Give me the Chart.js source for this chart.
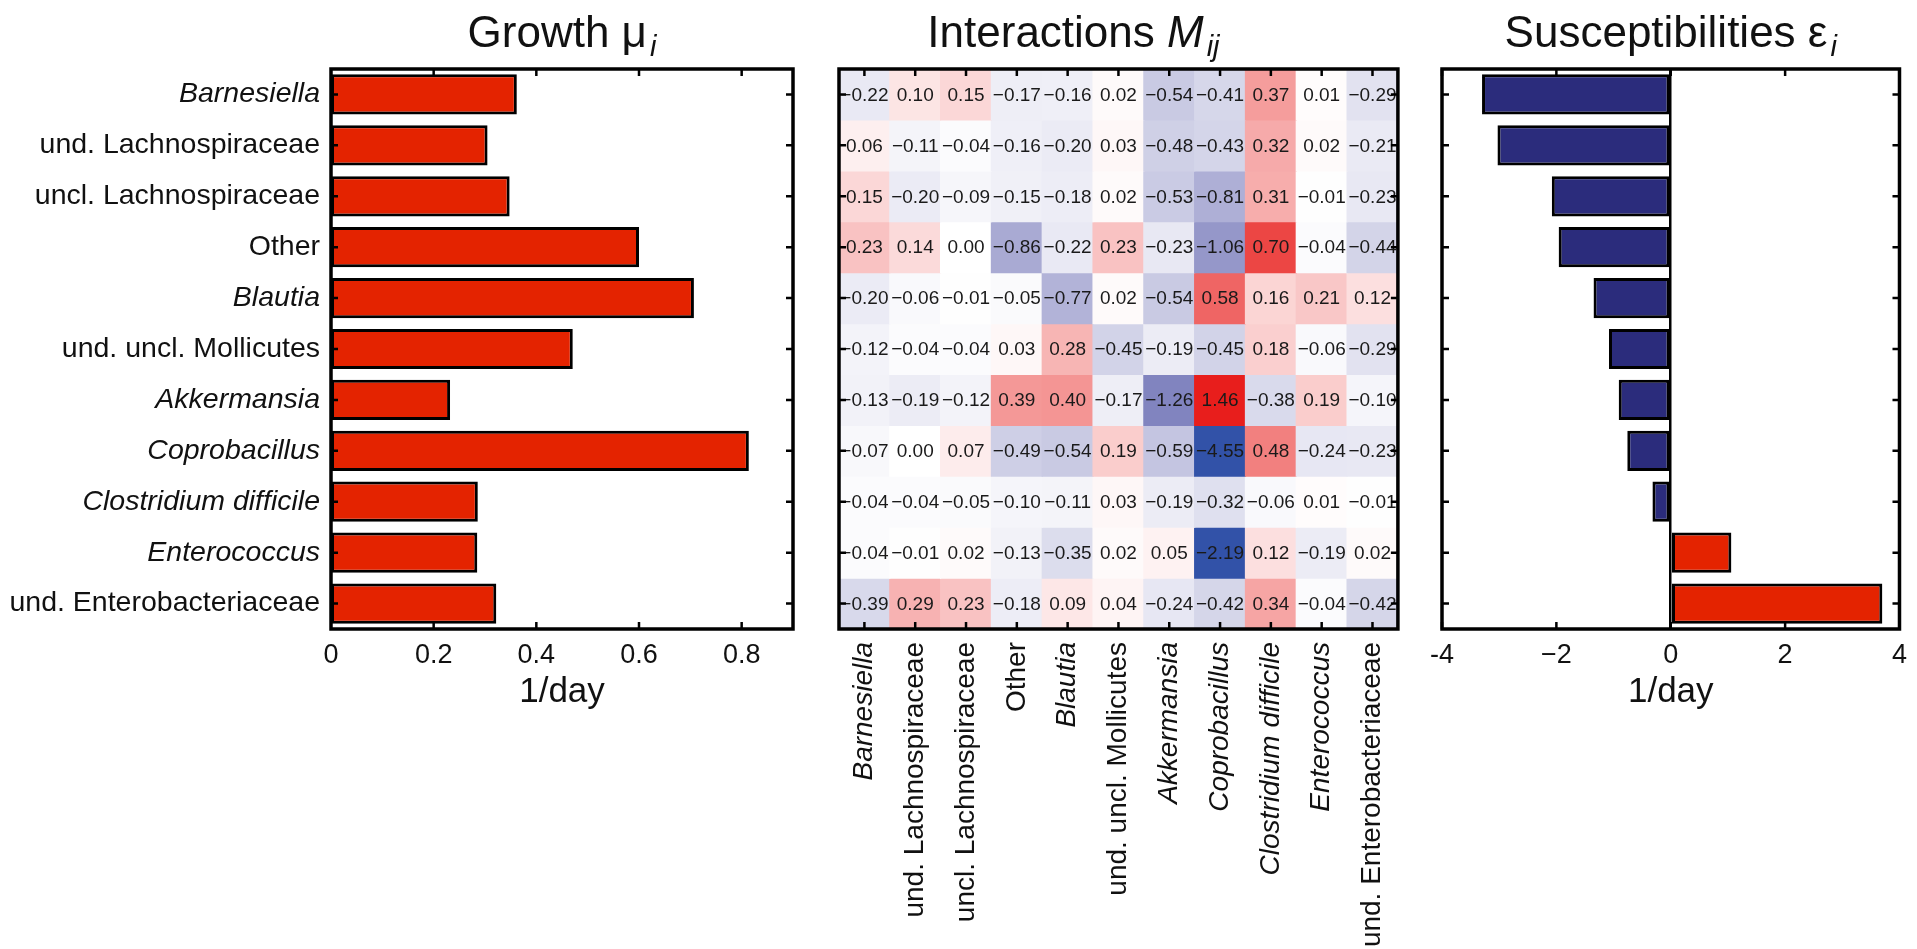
<!DOCTYPE html>
<html>
<head>
<meta charset="utf-8">
<script src="https://cdn.jsdelivr.net/npm/chart.js@4.4.1/dist/chart.umd.min.js"></script>
<style>
  html, body { margin: 0; padding: 0; background: #fff; width: 1917px; height: 949px; overflow: hidden; }
  .panel { position: absolute; top: 0; height: 949px; }
  #growthWrap { left: 0; width: 815px; }
  #interWrap { left: 815px; width: 605px; }
  #suscWrap { left: 1420px; width: 497px; }
</style>
</head>
<body>
<div class="panel" id="growthWrap"><canvas id="growth"></canvas></div>
<div class="panel" id="interWrap"><canvas id="inter"></canvas></div>
<div class="panel" id="suscWrap"><canvas id="susc"></canvas></div>
<script>
// ---- data ----
const taxa = [
  'Barnesiella', 'und. Lachnospiraceae', 'uncl. Lachnospiraceae', 'Other', 'Blautia',
  'und. uncl. Mollicutes', 'Akkermansia', 'Coprobacillus', 'Clostridium difficile',
  'Enterococcus', 'und. Enterobacteriaceae'
];
const italicTaxa = ['Barnesiella', 'Blautia', 'Akkermansia', 'Coprobacillus', 'Clostridium difficile', 'Enterococcus'];

// growth rates mu_i (1/day)
const growthRate = [0.362, 0.305, 0.348, 0.600, 0.707, 0.471, 0.232, 0.814, 0.286, 0.285, 0.322];

// susceptibilities eps_i (1/day)
const susceptibility = [-3.30, -3.03, -2.08, -1.96, -1.35, -1.08, -0.91, -0.76, -0.32, 1.06, 3.70];

// interaction matrix M_ij (row i, column j)
const interactions = [
  [-0.22,  0.10,  0.15, -0.17, -0.16,  0.02, -0.54, -0.41,  0.37,  0.01, -0.29],
  [ 0.06, -0.11, -0.04, -0.16, -0.20,  0.03, -0.48, -0.43,  0.32,  0.02, -0.21],
  [ 0.15, -0.20, -0.09, -0.15, -0.18,  0.02, -0.53, -0.81,  0.31, -0.01, -0.23],
  [ 0.23,  0.14,  0.00, -0.86, -0.22,  0.23, -0.23, -1.06,  0.70, -0.04, -0.44],
  [-0.20, -0.06, -0.01, -0.05, -0.77,  0.02, -0.54,  0.58,  0.16,  0.21,  0.12],
  [-0.12, -0.04, -0.04,  0.03,  0.28, -0.45, -0.19, -0.45,  0.18, -0.06, -0.29],
  [-0.13, -0.19, -0.12,  0.39,  0.40, -0.17, -1.26,  1.46, -0.38,  0.19, -0.10],
  [-0.07,  0.00,  0.07, -0.49, -0.54,  0.19, -0.59, -4.55,  0.48, -0.24, -0.23],
  [-0.04, -0.04, -0.05, -0.10, -0.11,  0.03, -0.19, -0.32, -0.06,  0.01, -0.01],
  [-0.04, -0.01,  0.02, -0.13, -0.35,  0.02,  0.05, -2.19,  0.12, -0.19,  0.02],
  [-0.39,  0.29,  0.23, -0.18,  0.09,  0.04, -0.24, -0.42,  0.34, -0.04, -0.42]
];

const growthTicks = ['0', '0.2', '0.4', '0.6', '0.8'];
const suscTicks = ['-4', '\u22122', '0', '2', '4'];
const unitLabel = '1/day';

const growthTitle = { text: 'Growth ', sym: '\u03bc', symItalic: false, sub: 'i', shift: 0 };
const interTitle = { text: 'Interactions ', sym: 'M', symItalic: true, sub: 'ij', shift: -45 };
const suscTitle = { text: 'Susceptibilities ', sym: '\u03b5', symItalic: false, sub: 'i', shift: 0 };

// ---- styling helpers ----
const FONT = '"Liberation Sans", Arial, Helvetica, sans-serif';
const INK = '#111';
const RED = '#e42300';
const NAVY = '#2b2c7c';

Chart.defaults.font.family = FONT;
Chart.defaults.color = INK;
Chart.defaults.animation = false;

function tickFont(size) {
  return ctx => ({
    family: FONT,
    size: size,
    style: italicTaxa.includes(taxa[ctx.index]) ? 'italic' : 'normal'
  });
}

function mix(a, b, t) {
  const c = a.map((v, k) => Math.round(v + (b[k] - v) * t));
  return `rgb(${c[0]},${c[1]},${c[2]})`;
}

// diverging blue - white - red map for the interaction cells
function cellColor(v) {
  const white = [255, 255, 255];
  if (v >= 0) {
    return mix(white, [232, 30, 28], Math.min(1, v / 0.85));
  }
  const f = Math.min(1, -v / 2.05);
  const lav = [132, 134, 192];
  if (f <= 0.6) return mix(white, lav, f / 0.6);
  return mix(lav, [50, 82, 168], (f - 0.6) / 0.4);
}

function fmtValue(v) {
  const s = Math.abs(v).toFixed(2);
  return v < 0 ? '\u2212' + s : s;
}

// boxed axes with inward tick marks on all four sides
function framePlugin(getX, getY) {
  return {
    id: 'frame',
    afterDatasetsDraw(chart) {
      const { ctx, chartArea: a } = chart;
      const L = 7;
      ctx.save();
      ctx.strokeStyle = '#000';
      ctx.lineWidth = 2.5;
      ctx.beginPath();
      getX(chart).forEach(x => {
        ctx.moveTo(x, a.top); ctx.lineTo(x, a.top + L);
        ctx.moveTo(x, a.bottom); ctx.lineTo(x, a.bottom - L);
      });
      getY(chart).forEach(y => {
        ctx.moveTo(a.left, y); ctx.lineTo(a.left + L, y);
        ctx.moveTo(a.right, y); ctx.lineTo(a.right - L, y);
      });
      ctx.stroke();
      ctx.lineWidth = 3.5;
      ctx.strokeRect(a.left, a.top, a.right - a.left, a.bottom - a.top);
      ctx.restore();
    }
  };
}

// panel heading with a symbol and an italic subscript
function titlePlugin(t) {
  return {
    id: 'panelTitle',
    afterDraw(chart) {
      const { ctx, chartArea: a } = chart;
      const big = `44px ${FONT}`;
      const sym = `${t.symItalic ? 'italic ' : ''}44px ${FONT}`;
      const sub = `italic 29px ${FONT}`;
      ctx.save();
      ctx.font = big; const w1 = ctx.measureText(t.text).width;
      ctx.font = sym; const w2 = ctx.measureText(t.sym).width;
      ctx.font = sub; const w3 = ctx.measureText(t.sub).width;
      let x = (a.left + a.right) / 2 + t.shift - (w1 + w2 + w3 + 3) / 2;
      const y = 47;
      ctx.fillStyle = INK;
      ctx.textAlign = 'left';
      ctx.textBaseline = 'alphabetic';
      ctx.font = big; ctx.fillText(t.text, x, y); x += w1;
      ctx.font = sym; ctx.fillText(t.sym, x, y); x += w2 + 3;
      ctx.font = sub; ctx.fillText(t.sub, x, y + 9);
      ctx.restore();
    }
  };
}

const xTickPixels = chart => {
  const s = chart.scales.x;
  return s.ticks.map((_, i) => s.getPixelForTick(i));
};
const yTickPixels = chart => {
  const s = chart.scales.y;
  return s.ticks.map((_, i) => s.getPixelForTick(i));
};

const unitTitle = {
  display: true,
  text: unitLabel,
  color: INK,
  font: { family: FONT, size: 35 },
  padding: { top: 0, bottom: 236 }
};

// ---- Growth panel ----
new Chart(document.getElementById('growth'), {
  type: 'bar',
  data: {
    labels: taxa,
    datasets: [{
      label: 'Growth',
      data: growthRate,
      backgroundColor: RED,
      borderColor: '#000',
      borderWidth: 3,
      borderSkipped: false,
      barPercentage: 0.79,
      categoryPercentage: 1
    }]
  },
  options: {
    indexAxis: 'y',
    responsive: true,
    maintainAspectRatio: false,
    animation: false,
    layout: { padding: { top: 69, right: 22, left: 0, bottom: 0 } },
    plugins: { legend: { display: false }, tooltip: { enabled: false } },
    scales: {
      x: {
        min: 0, max: 0.9,
        grid: { display: false, drawTicks: false },
        border: { display: false },
        ticks: {
          stepSize: 0.2, includeBounds: false, padding: 10, color: INK,
          font: { family: FONT, size: 27 },
          callback: (v, i) => growthTicks[i]
        },
        title: unitTitle,
        afterFit: s => { s.height = 320; }
      },
      y: {
        grid: { display: false, drawTicks: false },
        border: { display: false },
        ticks: { padding: 11, color: INK, font: tickFont(28.5) },
        afterFit: s => { s.width = 331; }
      }
    }
  },
  plugins: [
    framePlugin(ch => xTickPixels(ch).slice(1), yTickPixels),
    titlePlugin(growthTitle)
  ]
});

// ---- Interaction heatmap ----
const cellLabels = {
  id: 'cellLabels',
  afterDatasetsDraw(chart) {
    const { ctx } = chart;
    ctx.save();
    ctx.font = `19px ${FONT}`;
    ctx.fillStyle = '#1a1a1a';
    ctx.textAlign = 'center';
    ctx.textBaseline = 'middle';
    chart.data.datasets.forEach((ds, i) => {
      chart.getDatasetMeta(i).data.forEach((el, j) => {
        ctx.fillText(fmtValue(interactions[i][j]), el.x, (el.y + el.base) / 2 + 1);
      });
    });
    ctx.restore();
  }
};

new Chart(document.getElementById('inter'), {
  type: 'bar',
  data: {
    labels: taxa,
    datasets: interactions.map((row, i) => ({
      label: taxa[i],
      data: row.map(() => 1),
      backgroundColor: row.map(cellColor),
      borderWidth: 0,
      barPercentage: 1,
      categoryPercentage: 1,
      inflateAmount: 0.6
    }))
  },
  options: {
    responsive: true,
    maintainAspectRatio: false,
    animation: false,
    layout: { padding: { top: 69, right: 20, left: 0, bottom: 0 } },
    plugins: { legend: { display: false }, tooltip: { enabled: false } },
    scales: {
      x: {
        stacked: true,
        grid: { display: false, drawTicks: false },
        border: { display: false },
        ticks: {
          autoSkip: false, maxRotation: 90, minRotation: 90, padding: 13,
          color: INK, font: tickFont(28)
        },
        afterFit: s => { s.height = 320; }
      },
      y: {
        stacked: true, reverse: true, min: 0, max: 11,
        grid: { display: false, drawTicks: false },
        border: { display: false },
        ticks: { display: false },
        afterFit: s => { s.width = 24; }
      }
    }
  },
  plugins: [
    cellLabels,
    framePlugin(xTickPixels, ch => taxa.map((_, i) => ch.scales.y.getPixelForValue(i + 0.5))),
    titlePlugin(interTitle)
  ]
});

// ---- Susceptibility panel ----
new Chart(document.getElementById('susc'), {
  type: 'bar',
  data: {
    labels: taxa,
    datasets: [{
      label: 'Susceptibility',
      data: susceptibility,
      backgroundColor: susceptibility.map(v => (v < 0 ? NAVY : RED)),
      borderColor: '#000',
      borderWidth: 3,
      borderSkipped: false,
      barPercentage: 0.79,
      categoryPercentage: 1
    }]
  },
  options: {
    indexAxis: 'y',
    responsive: true,
    maintainAspectRatio: false,
    animation: false,
    layout: { padding: { top: 69, right: 8, left: 0, bottom: 0 } },
    plugins: { legend: { display: false }, tooltip: { enabled: false } },
    scales: {
      x: {
        min: -4, max: 4,
        grid: {
          drawTicks: false,
          color: c => (c.tick && c.tick.value === 0 ? '#000' : 'rgba(0,0,0,0)'),
          lineWidth: 2.5
        },
        border: { display: false },
        ticks: {
          stepSize: 2, padding: 10, color: INK,
          font: { family: FONT, size: 27 },
          callback: (v, i) => suscTicks[i]
        },
        title: unitTitle,
        afterFit: s => { s.height = 320; }
      },
      y: {
        grid: { display: false, drawTicks: false },
        border: { display: false },
        ticks: { display: false },
        afterFit: s => { s.width = 22; }
      }
    }
  },
  plugins: [
    framePlugin(xTickPixels, yTickPixels),
    titlePlugin(suscTitle)
  ]
});
</script>
</body>
</html>
